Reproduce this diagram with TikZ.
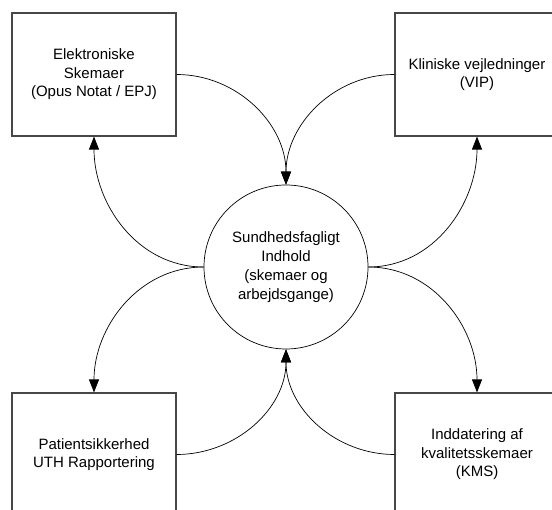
\documentclass[tikz,border=0pt]{standalone}
\usepackage{fontspec}
\setmainfont{Liberation Sans}
\usetikzlibrary{arrows.meta}

\begin{document}
\begin{tikzpicture}[x=1pt,y=-1pt,
  box/.style={draw=black!72,line width=1.1pt,minimum width=164pt,minimum height=123pt,
    inner sep=0pt,align=center,font=\fontsize{15}{18.5}\selectfont},
  hub/.style={draw=black,line width=0.7pt,circle,minimum size=164pt,inner sep=0pt,
    align=center,font=\fontsize{15}{19}\selectfont},
  flow/.style={draw=black,line width=0.7pt,-{Triangle[length=13pt,width=10pt]}}]
\useasboundingbox (0,0) rectangle (552,510);
\clip (0,0) rectangle (552,510);

\node[hub] (c) at (286,267) {Sundhedsfagligt\\Indhold\\(skemaer og\\arbejdsgange)};

\node[box] (tl) at (94,74.5) {Elektroniske\\Skemaer\\(Opus Notat / EPJ)};
\node[box] (tr) at (477,74.5) {Kliniske vejledninger\\(VIP)};
\node[box] (bl) at (94,454.5) {Patientsikkerhed\\UTH Rapportering};
\node[box] (br) at (477,454.5) {Inddatering af\\kvalitetsskemaer\\(KMS)};

% flows into the hub from the upper boxes
\draw[flow] (tl.east) to[out=0,in=90] (c.north);
\draw[flow] (tr.west) to[out=180,in=90] (c.north);
% flows from the hub back to the upper boxes
\draw[flow] (c.west) to[out=180,in=-90] (tl.south);
\draw[flow] (c.east) to[out=0,in=-90] (tr.south);
% flows from the hub to the lower boxes
\draw[flow] (c.west) to[out=180,in=90] (bl.north);
\draw[flow] (c.east) to[out=0,in=90] (br.north);
% flows into the hub from the lower boxes
\draw[flow] (bl.east) to[out=0,in=-90] (c.south);
\draw[flow] (br.west) to[out=180,in=-90] (c.south);
\end{tikzpicture}
\end{document}
